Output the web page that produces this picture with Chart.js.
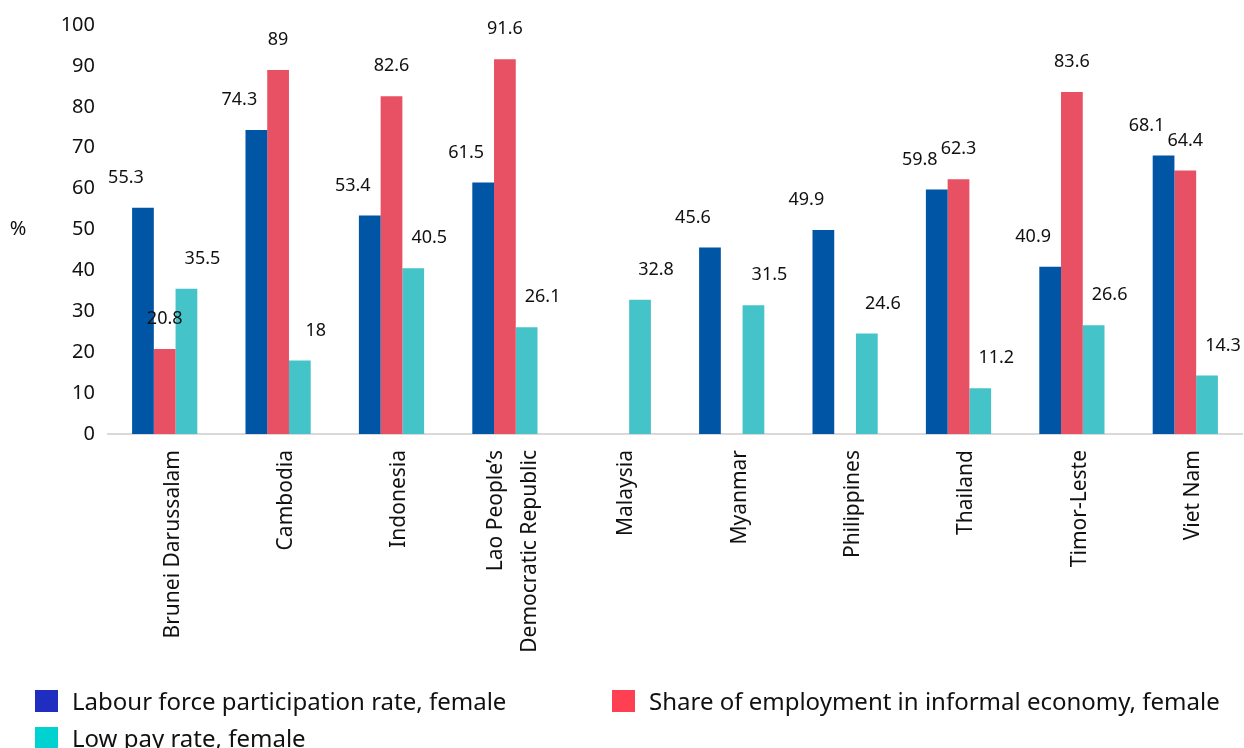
<!DOCTYPE html>
<html>
<head>
<meta charset="utf-8">
<script src="https://cdn.jsdelivr.net/npm/chart.js@4.4.1/dist/chart.umd.min.js"></script>
<style>
  html, body { margin: 0; padding: 0; background: #fff; }
  body { width: 1244px; height: 748px; overflow: hidden; position: relative; font-family: "Noto Sans", sans-serif; }
  #wrap { position: absolute; left: 0; top: 0; width: 1244px; height: 748px; }
  .legend-item { position: absolute; display: flex; align-items: center; font-size: 24px; line-height: 28px; color: #111; white-space: nowrap; }
  .legend-item .swatch { width: 23px; height: 22px; margin-right: 14px; }
</style>
</head>
<body>
<div id="wrap"><canvas id="chart" width="1244" height="748"></canvas></div>
<div class="legend-item" style="left:35px; top:687px;"><span class="swatch" style="background:#1f2ec0"></span><span>Labour force participation rate, female</span></div>
<div class="legend-item" style="left:612px; top:687px;"><span class="swatch" style="background:#ff4052"></span><span>Share of employment in informal economy, female</span></div>
<div class="legend-item" style="left:35px; top:724px;"><span class="swatch" style="background:#00d2d2"></span><span>Low pay rate, female</span></div>
<script>
const countries = [
    'Brunei Darussalam', 'Cambodia', 'Indonesia', ['Lao People\u2019s', 'Democratic Republic'],
    'Malaysia', 'Myanmar', 'Philippines', 'Thailand', 'Timor-Leste', 'Viet Nam'
];
const labourForce = [55.3, 74.3, 53.4, 61.5, null, 45.6, 49.9, 59.8, 40.9, 68.1];
const informalShare = [20.8, 89, 82.6, 91.6, null, null, null, 62.3, 83.6, 64.4];
const lowPay = [35.5, 18, 40.5, 26.1, 32.8, 31.5, 24.6, 11.2, 26.6, 14.3];
const yTicks = [0, 10, 20, 30, 40, 50, 60, 70, 80, 90, 100];

const font = '"Noto Sans", sans-serif';

// value labels sit above each bar, nudged sideways per series
const labelOffsets = [-17, 0, 16];
const valueLabels = {
    id: 'valueLabels',
    afterDatasetsDraw(chart) {
        const ctx = chart.ctx;
        ctx.save();
        ctx.font = '18px ' + font;
        ctx.fillStyle = '#111';
        ctx.textAlign = 'center';
        ctx.textBaseline = 'middle';
        chart.data.datasets.forEach((ds, i) => {
            chart.getDatasetMeta(i).data.forEach((bar, j) => {
                const v = ds.data[j];
                if (v == null) return;
                ctx.fillText(String(v), bar.x + labelOffsets[i], bar.y - 30);
            });
        });
        // unit label on the left, horizontal
        ctx.font = '20px ' + font;
        ctx.fillText('%', 18, (chart.chartArea.top + chart.chartArea.bottom) / 2);
        ctx.restore();
    }
};

// vertical category names under the axis, reading bottom-to-top
const categoryLabels = {
    id: 'categoryLabels',
    afterDraw(chart) {
        const ctx = chart.ctx;
        const xs = chart.scales.x;
        const lineGap = 34;
        ctx.save();
        ctx.font = '21px ' + font;
        ctx.fillStyle = '#111';
        ctx.textAlign = 'right';
        ctx.textBaseline = 'middle';
        chart.data.labels.forEach((lbl, i) => {
            const lines = Array.isArray(lbl) ? lbl : [lbl];
            const cx = xs.getPixelForValue(i) + 8;
            const top = chart.chartArea.bottom + 16;
            lines.forEach((line, k) => {
                const x = cx + (k - (lines.length - 1) / 2) * lineGap;
                ctx.save();
                ctx.translate(x, top);
                ctx.rotate(-Math.PI / 2);
                ctx.fillText(line, 0, 0);
                ctx.restore();
            });
        });
        ctx.restore();
    }
};

new Chart(document.getElementById('chart'), {
    type: 'bar',
    data: {
        labels: countries,
        datasets: [
            { label: 'Labour force participation rate, female', data: labourForce, backgroundColor: '#0055a5' },
            { label: 'Share of employment in informal economy, female', data: informalShare, backgroundColor: '#e85063' },
            { label: 'Low pay rate, female', data: lowPay, backgroundColor: '#44c3c8' }
        ]
    },
    options: {
        responsive: false,
        animation: false,
        layout: { padding: { top: 24, right: 2, left: 0, bottom: 0 } },
        datasets: {
            bar: { categoryPercentage: 0.575, barPercentage: 1, borderWidth: 0 }
        },
        scales: {
            x: {
                grid: { display: false, drawTicks: false },
                border: { display: true, color: '#d9d9d9', width: 2 },
                ticks: { display: false },
                afterFit(scale) { scale.height = 314; }
            },
            y: {
                min: 0,
                max: 100,
                grid: { display: false, drawTicks: false },
                border: { display: false },
                afterBuildTicks(scale) { scale.ticks = yTicks.map(v => ({ value: v })); },
                ticks: {
                    color: '#111',
                    font: { family: font, size: 20 },
                    padding: 13
                },
                afterFit(scale) { scale.width = 108; }
            }
        },
        plugins: {
            legend: { display: false },
            tooltip: { enabled: false }
        }
    },
    plugins: [valueLabels, categoryLabels]
});
</script>
</body>
</html>
